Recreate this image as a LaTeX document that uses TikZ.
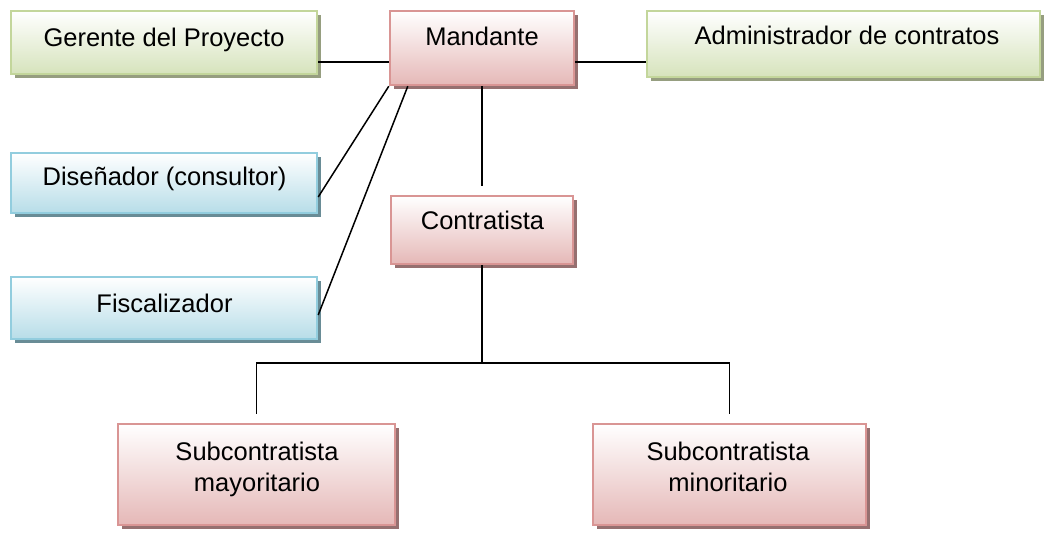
\documentclass[tikz,border=0pt]{standalone}
\usepackage{fontspec}
\setmainfont{Liberation Sans}
\usetikzlibrary{shadows,calc}
\definecolor{gfill}{RGB}{214,227,188}
\definecolor{gborder}{RGB}{195,214,155}
\definecolor{gshadow}{RGB}{150,158,128}
\definecolor{pfill}{RGB}{229,184,183}
\definecolor{pborder}{RGB}{217,149,148}
\definecolor{pshadow}{RGB}{150,112,112}
\definecolor{bfill}{RGB}{183,221,232}
\definecolor{bborder}{RGB}{146,205,222}
\definecolor{bshadow}{RGB}{105,140,150}
\tikzset{
  box/.style={rectangle, line width=2.4pt, inner sep=0pt},
  gbox/.style={box, draw=gborder, top color=white, bottom color=gfill,
    drop shadow={shadow xshift=4pt, shadow yshift=-4pt, fill=gshadow, opacity=1}},
  pbox/.style={box, draw=pborder, top color=white, bottom color=pfill,
    drop shadow={shadow xshift=4pt, shadow yshift=-4pt, fill=pshadow, opacity=1}},
  bbox/.style={box, draw=bborder, top color=white, bottom color=bfill,
    drop shadow={shadow xshift=4pt, shadow yshift=-4pt, fill=bshadow, opacity=1}},
  txt/.style={anchor=base, inner sep=0pt, align=center,
    font=\fontsize{25.5}{31.5}\selectfont},
  link/.style={line width=1.5pt, black}
}
\begin{document}
\begin{tikzpicture}[x=1pt,y=-1pt]
\useasboundingbox (0,0) rectangle (1047,538);
% boxes
\node[gbox, minimum width=306pt, minimum height=63pt] (ger) at (164,42.5) {};
\node[pbox, minimum width=184pt, minimum height=74pt] (man) at (482,48) {};
\node[gbox, minimum width=393pt, minimum height=66pt] (adm) at (843.5,44) {};
\node[bbox, minimum width=306pt, minimum height=60pt] (dis) at (164,183) {};
\node[bbox, minimum width=306pt, minimum height=62pt] (fis) at (164,308) {};
\node[pbox, minimum width=182pt, minimum height=68pt] (con) at (482,230) {};
\node[pbox, minimum width=277pt, minimum height=101pt] (smay) at (256.5,474.5) {};
\node[pbox, minimum width=273pt, minimum height=101pt] (smin) at (729.5,474.5) {};
% texts
\node[txt] (tger) at (164,46) {Gerente del Proyecto};
\node[txt] (tman) at (482,45) {Mandante};
\node[txt] (tadm) at (847,44) {Administrador de contratos};
\node[txt] (tdis) at (164.5,185) {Diseñador (consultor)};
\node[txt] (tfis) at (164.5,312) {Fiscalizador};
\node[txt] (tcon) at (482.5,229) {Contratista};
\node[txt] (tsmay) at (257,491.5) {Subcontratista\\mayoritario};
\node[txt] (tsmin) at (728,491.5) {Subcontratista\\minoritario};
% connectors
\coordinate (hy) at (0,62);
\coordinate (jy) at (0,363);
\draw[link] (ger.east |- hy) -- (man.west |- hy);
\draw[link] (man.east |- hy) -- (adm.west |- hy);
\draw[link] (man.south west) -- ([yshift=-14pt]dis.east);
\draw[link] ([xshift=19pt]man.south west) -- ([yshift=-7pt]fis.east);
\draw[link] (man.south) -- ([yshift=9pt]con.north);
\coordinate (jn) at (con.south |- jy);
\draw[link] (con.south) -- (jn);
\draw[link] ([yshift=9pt]smay.north) |- (jn) -| ([yshift=9pt]smin.north);
\end{tikzpicture}
\end{document}
